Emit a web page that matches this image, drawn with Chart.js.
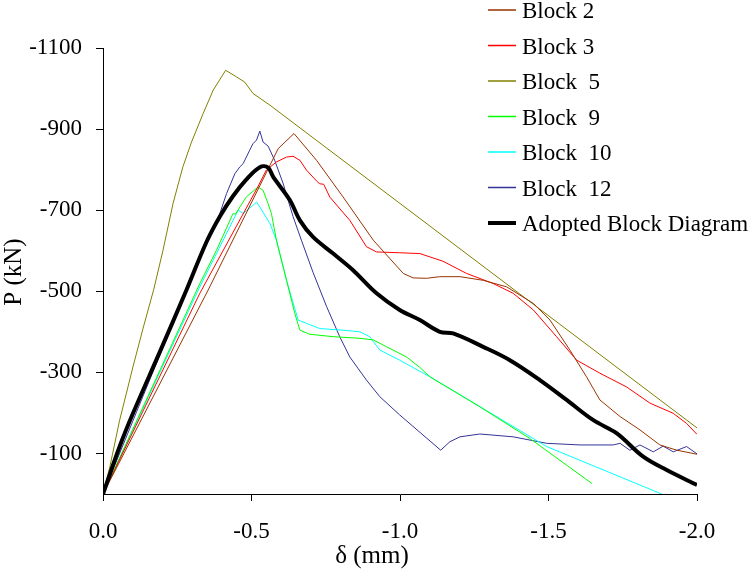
<!DOCTYPE html>
<html>
<head>
<meta charset="utf-8">
<script src="https://cdn.jsdelivr.net/npm/chart.js@4.4.1/dist/chart.umd.min.js"></script>
<style>
  html, body { margin: 0; padding: 0; background: #fff; }
  canvas { display: block; }
</style>
</head>
<body>
<canvas id="pdChart" width="753" height="569"></canvas>
<script>
// load-displacement curves, δ in mm and P in kN (both negative = compression)
const block2 = [[0, 0], [-0.354, -503], [-0.590, -852], [-0.643, -889], [-0.719, -823], [-0.808, -733],
  [-0.910, -626], [-1.011, -544], [-1.044, -533], [-1.089, -532], [-1.134, -536], [-1.202, -536],
  [-1.280, -527], [-1.359, -511], [-1.449, -470], [-1.505, -429], [-1.572, -355], [-1.628, -289],
  [-1.673, -232], [-1.741, -191], [-1.808, -158], [-1.875, -121], [-1.932, -108], [-2.0, -98]];

const block3 = [[0, 0], [-0.326, -495], [-0.521, -757], [-0.550, -799], [-0.584, -819], [-0.618, -831],
  [-0.640, -833], [-0.663, -823], [-0.685, -799], [-0.719, -772], [-0.730, -765], [-0.743, -764],
  [-0.764, -732], [-0.831, -675], [-0.887, -610], [-0.921, -597], [-0.999, -595], [-1.067, -593],
  [-1.145, -574], [-1.224, -544], [-1.314, -519], [-1.381, -495], [-1.449, -454], [-1.527, -388],
  [-1.595, -330], [-1.673, -298], [-1.763, -264], [-1.842, -224], [-1.920, -199], [-1.965, -174],
  [-2.0, -147]];

const block5 = [[0, 0], [-0.023, -67], [-0.056, -182], [-0.079, -249], [-0.101, -314], [-0.135, -409],
  [-0.171, -505], [-0.202, -601], [-0.236, -717], [-0.269, -807], [-0.298, -868], [-0.337, -938],
  [-0.371, -996], [-0.413, -1045], [-0.449, -1029], [-0.477, -1016], [-0.505, -988], [-0.562, -959],
  [-2.0, -163]];

const block9 = [[0, 0], [-0.326, -519], [-0.382, -601], [-0.438, -692], [-0.446, -690], [-0.461, -708],
  [-0.483, -733], [-0.522, -757], [-0.539, -749], [-0.556, -716], [-0.567, -692], [-0.584, -626],
  [-0.618, -527], [-0.646, -445], [-0.663, -404], [-0.696, -394], [-0.775, -388], [-0.865, -384],
  [-0.910, -380], [-0.955, -363], [-1.022, -338], [-1.067, -312], [-1.101, -289], [-1.269, -215],
  [-1.437, -137], [-1.646, -26]];

const block10 = [[0, 0], [-0.326, -511], [-0.382, -593], [-0.438, -675], [-0.455, -700], [-0.472, -692],
  [-0.505, -712], [-0.517, -720], [-0.528, -708], [-0.562, -667], [-0.584, -626], [-0.618, -527],
  [-0.657, -429], [-0.685, -421], [-0.730, -408], [-0.808, -404], [-0.865, -400], [-0.898, -388],
  [-0.932, -355], [-0.999, -330], [-1.101, -289], [-1.494, -117], [-1.881, 0]];

const block12 = [[0, 0], [-0.326, -584], [-0.382, -667], [-0.416, -741], [-0.444, -790], [-0.461, -807],
  [-0.472, -815], [-0.494, -848], [-0.505, -864], [-0.517, -873], [-0.528, -895], [-0.539, -868],
  [-0.556, -858], [-0.578, -823], [-0.606, -767], [-0.640, -684], [-0.668, -626], [-0.707, -547],
  [-0.753, -462], [-0.797, -388], [-0.831, -338], [-0.887, -281], [-0.932, -240], [-0.999, -195],
  [-1.137, -108], [-1.168, -129], [-1.202, -141], [-1.269, -148], [-1.381, -141], [-1.494, -125],
  [-1.606, -121], [-1.718, -121], [-1.741, -125], [-1.774, -108], [-1.808, -121], [-1.853, -104],
  [-1.886, -118], [-1.920, -104], [-1.965, -117], [-2.0, -99]];

const adopted = [[0, 0], [-0.056, -117], [-0.101, -199], [-0.191, -350], [-0.281, -503], [-0.348, -621],
  [-0.393, -684], [-0.438, -735], [-0.483, -776], [-0.528, -806], [-0.556, -805], [-0.573, -782],
  [-0.629, -725], [-0.663, -675], [-0.707, -634], [-0.775, -593], [-0.842, -552], [-0.921, -495],
  [-0.999, -454], [-1.067, -429], [-1.134, -400], [-1.179, -396], [-1.280, -363], [-1.370, -330],
  [-1.471, -281], [-1.561, -232], [-1.651, -182], [-1.729, -150], [-1.819, -92], [-1.898, -59],
  [-2.0, -22]];

const seriesLabels = ['Block 2', 'Block 3', 'Block  5', 'Block  9', 'Block  10', 'Block  12', 'Adopted Block Diagram'];
const seriesData = [block2, block3, block5, block9, block10, block12, adopted];
const seriesColors = ['#993300', '#ff0000', '#808000', '#00ff00', '#00ffff', '#333399', '#000000'];
const seriesWidths = [1, 1, 1, 1, 1, 1, 4];

const xTicks = [0, -0.5, -1.0, -1.5, -2.0];
const yTicks = [-100, -300, -500, -700, -900, -1100];

const FONT = '"Liberation Serif", "Times New Roman", serif';

// legend block and axis titles are placed by hand
const decorations = {
  id: 'decorations',
  afterDraw(chart) {
    const ctx = chart.ctx;
    ctx.save();
    ctx.fillStyle = '#000';

    // legend, top right, overlapping the plot
    ctx.font = '23px ' + FONT;
    ctx.textBaseline = 'middle';
    ctx.textAlign = 'left';
    chart.data.datasets.forEach((ds, i) => {
      const y = 10 + i * 35.5;
      ctx.strokeStyle = ds.borderColor;
      ctx.lineWidth = ds.borderWidth > 1 ? 4 : 1.5;
      ctx.beginPath();
      ctx.moveTo(488, y);
      ctx.lineTo(516, y);
      ctx.stroke();
      ctx.fillText(ds.label, 522, y + 2);
    });

    // axis titles
    ctx.font = '25px ' + FONT;
    ctx.textAlign = 'center';
    ctx.fillText('δ (mm)', 372, 556);

    ctx.translate(14, 272);
    ctx.rotate(-Math.PI / 2);
    ctx.fillText('P (kN)', 0, 0);
    ctx.restore();
  }
};

new Chart(document.getElementById('pdChart'), {
  type: 'line',
  data: {
    datasets: seriesLabels.map((label, i) => ({
      label,
      data: seriesData[i].map(([x, y]) => ({ x, y })),
      borderColor: seriesColors[i],
      borderWidth: seriesWidths[i],
      pointRadius: 0,
      // the adopted diagram is a fitted, smooth curve
      tension: i === 6 ? 0.35 : 0,
      fill: false,
      order: i === 6 ? 0 : 1
    }))
  },
  options: {
    responsive: false,
    animation: false,
    devicePixelRatio: 1,
    layout: { padding: { left: 0, top: 48, right: 56, bottom: 0 } },
    plugins: {
      legend: { display: false },
      tooltip: { enabled: false }
    },
    scales: {
      x: {
        type: 'linear',
        min: -2,
        max: 0,
        reverse: true,
        afterBuildTicks: (scale) => { scale.ticks = xTicks.map(v => ({ value: v })); },
        afterFit: (scale) => { scale.height = 75; },
        grid: { drawOnChartArea: false, drawTicks: true, tickLength: 7, color: '#000' },
        border: { display: true, color: '#000', width: 1 },
        ticks: {
          color: '#000',
          font: { family: FONT, size: 23 },
          padding: 17,
          maxRotation: 0,
          callback: (v) => v.toFixed(1)
        }
      },
      y: {
        type: 'linear',
        min: -1100,
        max: 0,
        reverse: true,
        afterBuildTicks: (scale) => { scale.ticks = yTicks.map(v => ({ value: v })); },
        afterFit: (scale) => { scale.width = 103; },
        grid: { drawOnChartArea: false, drawTicks: true, tickLength: 7, color: '#000' },
        border: { display: true, color: '#000', width: 1 },
        ticks: {
          color: '#000',
          font: { family: FONT, size: 23 },
          padding: 14,
          callback: (v) => String(v)
        }
      }
    }
  },
  plugins: [decorations]
});
</script>
</body>
</html>
